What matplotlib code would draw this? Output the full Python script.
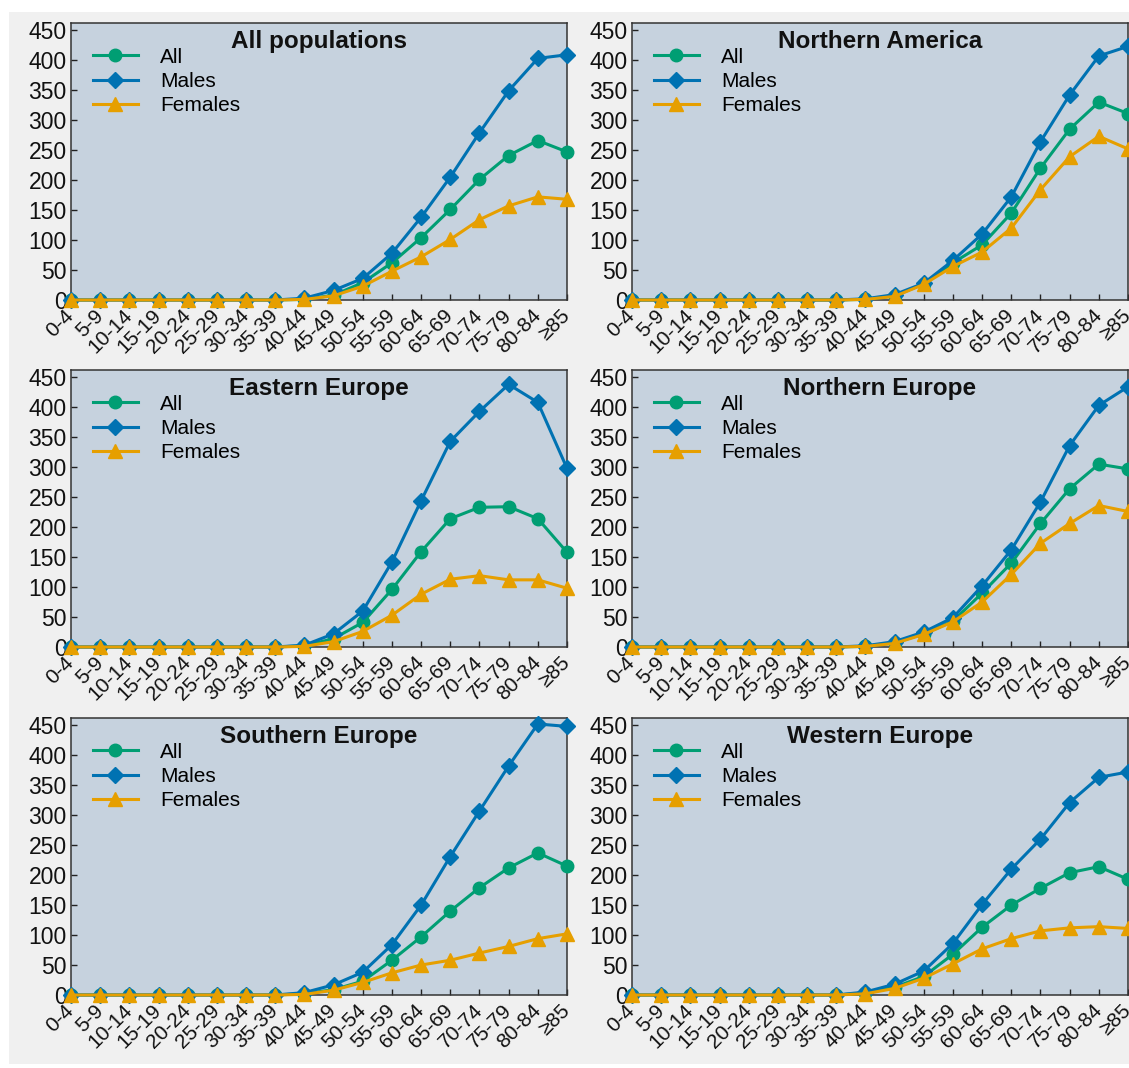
import matplotlib
matplotlib.use("Agg")
import matplotlib.pyplot as plt
from matplotlib.patches import Rectangle

plt.rcParams["font.family"] = ["Liberation Sans", "DejaVu Sans"]

age_groups = ["0-4", "5-9", "10-14", "15-19", "20-24", "25-29", "30-34", "35-39",
              "40-44", "45-49", "50-54", "55-59", "60-64", "65-69", "70-74",
              "75-79", "80-84", "≥85"]

regions = ["All populations", "Northern America", "Eastern Europe",
           "Northern Europe", "Southern Europe", "Western Europe"]

zeros = [0, 0, 0, 0, 0, 0, 0, 0]

all_pop_all = zeros + [1, 8, 29, 62, 104, 151, 201, 241, 266, 247]
all_pop_males = zeros + [3, 16, 36, 78, 138, 205, 279, 349, 403, 409]
all_pop_females = zeros + [1, 7, 23, 48, 72, 101, 134, 157, 172, 168]

n_america_all = zeros + [1, 7, 27, 62, 92, 145, 220, 285, 330, 311]
n_america_males = zeros + [2, 9, 28, 66, 110, 172, 264, 342, 407, 423]
n_america_females = zeros + [1, 6, 26, 56, 80, 120, 184, 239, 273, 252]

e_europe_all = zeros + [2, 14, 41, 96, 159, 214, 233, 234, 214, 158]
e_europe_males = zeros + [3, 22, 60, 142, 244, 343, 393, 438, 408, 298]
e_europe_females = zeros + [1, 9, 26, 53, 88, 113, 119, 112, 112, 98]

n_europe_all = zeros + [1, 7, 22, 43, 90, 140, 206, 264, 305, 297]
n_europe_males = zeros + [2, 9, 25, 49, 102, 162, 242, 336, 403, 434]
n_europe_females = zeros + [1, 6, 21, 42, 75, 121, 173, 206, 236, 226]

s_europe_all = zeros + [2, 9, 23, 58, 97, 140, 179, 212, 237, 215]
s_europe_males = zeros + [4, 17, 38, 84, 150, 231, 307, 382, 452, 448]
s_europe_females = zeros + [1, 8, 21, 37, 50, 58, 70, 81, 94, 102]

w_europe_all = zeros + [3, 13, 31, 68, 113, 150, 178, 204, 214, 193]
w_europe_males = zeros + [5, 18, 40, 86, 151, 210, 260, 321, 363, 372]
w_europe_females = zeros + [2, 11, 28, 52, 77, 94, 107, 112, 114, 111]

series = {
    "All populations": (all_pop_all, all_pop_males, all_pop_females),
    "Northern America": (n_america_all, n_america_males, n_america_females),
    "Eastern Europe": (e_europe_all, e_europe_males, e_europe_females),
    "Northern Europe": (n_europe_all, n_europe_males, n_europe_females),
    "Southern Europe": (s_europe_all, s_europe_males, s_europe_females),
    "Western Europe": (w_europe_all, w_europe_males, w_europe_females),
}

legend_labels = ["All", "Males", "Females"]
colors = ["#009E73", "#0072B2", "#E69F00"]
markers = ["o", "D", "^"]
marker_sizes = [9, 8.5, 10]
yticks = [0, 50, 100, 150, 200, 250, 300, 350, 400, 450]

W, H = 1129, 1068
fig = plt.figure(figsize=(W / 100, H / 100), dpi=100, facecolor="white")

# light grey panel behind the grid of plots
fig.patches.append(Rectangle((9 / W, (H - 1064) / H), (W - 9) / W, (1064 - 12) / H,
                             transform=fig.transFigure, facecolor="#f0f0f0",
                             edgecolor="none", zorder=-10))

col_left = [71, 632]
row_top = [23, 370, 718]
ax_w, ax_h = 496, 277

x = list(range(len(age_groups)))
for i, region in enumerate(regions):
    r, c = divmod(i, 2)
    left = col_left[c]
    top = row_top[r]
    ax = fig.add_axes([left / W, (H - top - ax_h) / H, ax_w / W, ax_h / H])
    ax.set_facecolor("#c6d2de")
    for vals, lab, col, mk, ms in zip(series[region], legend_labels, colors,
                                      markers, marker_sizes):
        ax.plot(x, vals, color=col, marker=mk, markersize=ms, linewidth=2.2,
                label=lab, clip_on=False, zorder=3)
    ax.set_xlim(0, len(age_groups) - 1)
    ax.set_ylim(0, 462)
    ax.set_xticks(x)
    # rotated age labels, centred on the tick line so they sit a bit to the left
    ax.set_xticklabels(age_groups, rotation=45, ha="right", va="center",
                       rotation_mode="anchor", fontsize=15)
    ax.set_yticks(yticks)
    ax.set_yticklabels([str(v) for v in yticks], fontsize=16.5)
    ax.tick_params(axis="both", direction="in", length=4, width=1,
                   color="#222222", labelcolor="#111111")
    ax.tick_params(axis="x", pad=9)
    ax.tick_params(axis="y", pad=3)
    for sp in ax.spines.values():
        sp.set_color("#333333")
        sp.set_linewidth(1.1)
    ax.text(0.5, 0.975, region, transform=ax.transAxes, ha="center", va="top",
            fontsize=17.5, fontweight="bold", color="#111111")
    ax.legend(loc="upper left", bbox_to_anchor=(0.035, 0.926), frameon=False,
              fontsize=15, handlelength=2.2, handletextpad=1.05,
              labelspacing=0.26, borderaxespad=0.0, borderpad=0.2)

fig.savefig("out.png", dpi=100, facecolor="white")
